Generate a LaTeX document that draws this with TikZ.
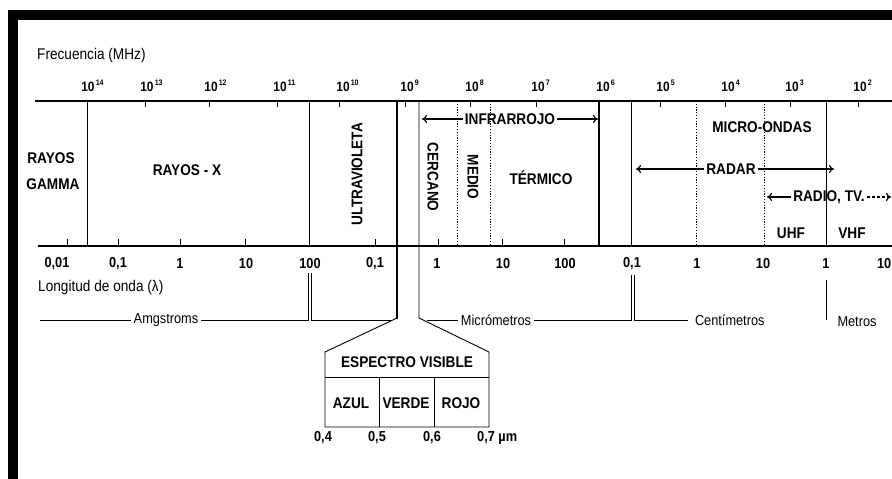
\documentclass[tikz,border=0pt]{standalone}
\usepackage{fontspec}
\setmainfont{Liberation Sans}[FakeStretch=0.88]
\usetikzlibrary{arrows.meta}
\newcommand\tenp[1]{10\rlap{\hspace{1.2pt}\raisebox{5.5pt}{\fontsize{8}{9}\selectfont #1}}}
\begin{document}
\begin{tikzpicture}[x=1pt,y=-1pt,
  lab/.style={font=\fontsize{15.5}{17}\selectfont\bfseries, inner sep=0pt, outer sep=2pt},
  num/.style={font=\fontsize{14.5}{16}\selectfont\bfseries, inner sep=0pt},
  fq/.style={font=\fontsize{13.5}{15}\selectfont\bfseries, inner sep=0pt},
  reg/.style={font=\fontsize{15.5}{17}\selectfont, inner sep=0pt},
  unit/.style={font=\fontsize{14.5}{16}\selectfont, inner sep=0pt, outer sep=3pt},
  ln/.style={line width=0.9pt},
  axis/.style={line width=1.6pt},
  heavy/.style={line width=2.2pt},
  dotl/.style={line width=1pt, dash pattern=on 1.2pt off 1.6pt},
  arr/.style={line width=1.1pt, -{To[length=5pt,width=8pt]}},
]
\useasboundingbox (0,0) rectangle (892,479);
\fill[white] (0,0) rectangle (892,479);
% frame
\fill[black] (8,10) rectangle (892,20);
\fill[black] (8,10) rectangle (18,479);

% frequency title and labels
\node[reg, anchor=west] (frec) at (37,55) {Frecuencia (MHz)};
\foreach \xx/\ee [count=\i] in {88/14,147/13,211/12,280/11,343/10,407/9,472/8,538/7,603/6,663/5,728/4,792/3,860/2}
  \node[fq] (f\i) at (\xx,86) {\tenp{\ee}};

% axes
\draw[axis] (35,101) -- (892,101);
\draw[axis] (38,246) -- (892,246);

% top ticks
\foreach \xx in {145,209,277,339,405,470,536,660,725,790,858}
  \draw[ln] (\xx,101) -- (\xx,107);
% bottom ticks
\foreach \xx in {67,118,180,245,375,438,502,564}
  \draw[ln] (\xx,246) -- (\xx,239);

% region boundaries
\draw[ln] (87,101) -- (87,246);
\draw[ln] (309,101) -- (309,246);
\draw[dotl] (457,101) -- (457,246);
\draw[dotl] (490,101) -- (490,246);
\draw[heavy] (599,101) -- (599,246);
\draw[ln] (631,101) -- (631,246);
\draw[dotl] (696,101) -- (696,246);
\draw[dotl] (764,101) -- (764,246);
\draw[ln] (826,101) -- (826,246);

% visible spectrum funnel
\draw[heavy] (397,101) -- (397,319);
\draw[ln] (397,318) -- (325,352) -- (325,427) -- (489,427) -- (489,352) -- (419,318) -- (419,101);
\draw[ln] (325,377) -- (489,377);
\draw[ln] (379,377) -- (379,427);
\draw[ln] (434,377) -- (434,427);
\node[lab] (esp) at (407,362) {ESPECTRO VISIBLE};
\node[lab] (azul) at (351,403) {AZUL};
\node[lab] (verde) at (406,403) {VERDE};
\node[lab] (rojo) at (461,403) {ROJO};
\node[num] (v4) at (323,438) {0,4};
\node[num] (v5) at (377,438) {0,5};
\node[num] (v6) at (432,438) {0,6};
\node[num, anchor=west] (v7) at (477,438) {0,7 µm};

% region labels
\node[lab] (ray1) at (51,158) {RAYOS};
\node[lab] (gam) at (53,184) {GAMMA};
\node[lab] (rx) at (187,170) {RAYOS - X};
\node[lab, rotate=90] (uv) at (357,174) {ULTRAVIOLETA};
\node[lab, rotate=-90] (cer) at (433,177) {CERCANO};
\node[lab, rotate=-90] (med) at (473,177) {MEDIO};
\node[lab] (ter) at (541,178) {TÉRMICO};
\node[lab] (infra) at (510,119) {INFRARROJO};
\coordinate (irL) at (422,119);
\coordinate (irR) at (598,119);
\draw[arr] (infra.west) -- (irL);
\draw[arr] (infra.east) -- (irR);
\node[lab] (mo) at (762,127) {MICRO-ONDAS};
\node[lab] (radar) at (731,169) {RADAR};
\coordinate (raL) at (636,169);
\coordinate (raR) at (834,169);
\draw[arr] (radar.west) -- (raL);
\draw[arr] (radar.east) -- (raR);
\node[lab] (radio) at (829,197) {RADIO, TV.};
\coordinate (rdL) at (767,197);
\coordinate (rdR) at (891,197);
\draw[arr] (radio.west) -- (rdL);
\draw[arr, dash pattern=on 3pt off 2pt] (radio.east) -- (rdR);
\node[lab] (uhf) at (791,233) {UHF};
\node[lab] (vhf) at (852,233) {VHF};

% wavelength labels
\foreach \xx/\tt [count=\i] in {57/{0,01},118/{0,1},180/1,246/10,310/100,375/{0,1},437/1,503/10,565/100,632/{0,1},697/1,763/10,826/1}
  \node[num] (w\i) at (\xx,264) {\tt};
\node[num, anchor=east] (w14) at (891.5,264) {10};
\node[reg, anchor=west] (long) at (38,287) {Longitud de onda (λ)};

% unit brackets
\node[unit] (amg) at (166,320) {Amgstroms};
\coordinate (a0) at (40,320);
\draw[ln] (a0) -- (amg.west);
\draw[ln] (amg.east) -- (308,320) -- (308,273);
\draw[ln] (311,273) -- (311,320) -- (392,320);
\node[unit] (mic) at (496,320) {Micrómetros};
\coordinate (m0) at (427,320);
\draw[ln] (m0) -- (mic.west);
\draw[ln] (mic.east) -- (631,320) -- (631,275);
\draw[ln] (634,275) -- (634,320) -- (688,320);
\node[unit, anchor=west, outer sep=0pt] (cen) at (695,320) {Centímetros};
\draw[ln] (826,280) -- (826,320);
\node[unit, outer sep=0pt] (met) at (857,322) {Metros};
\end{tikzpicture}
\end{document}
